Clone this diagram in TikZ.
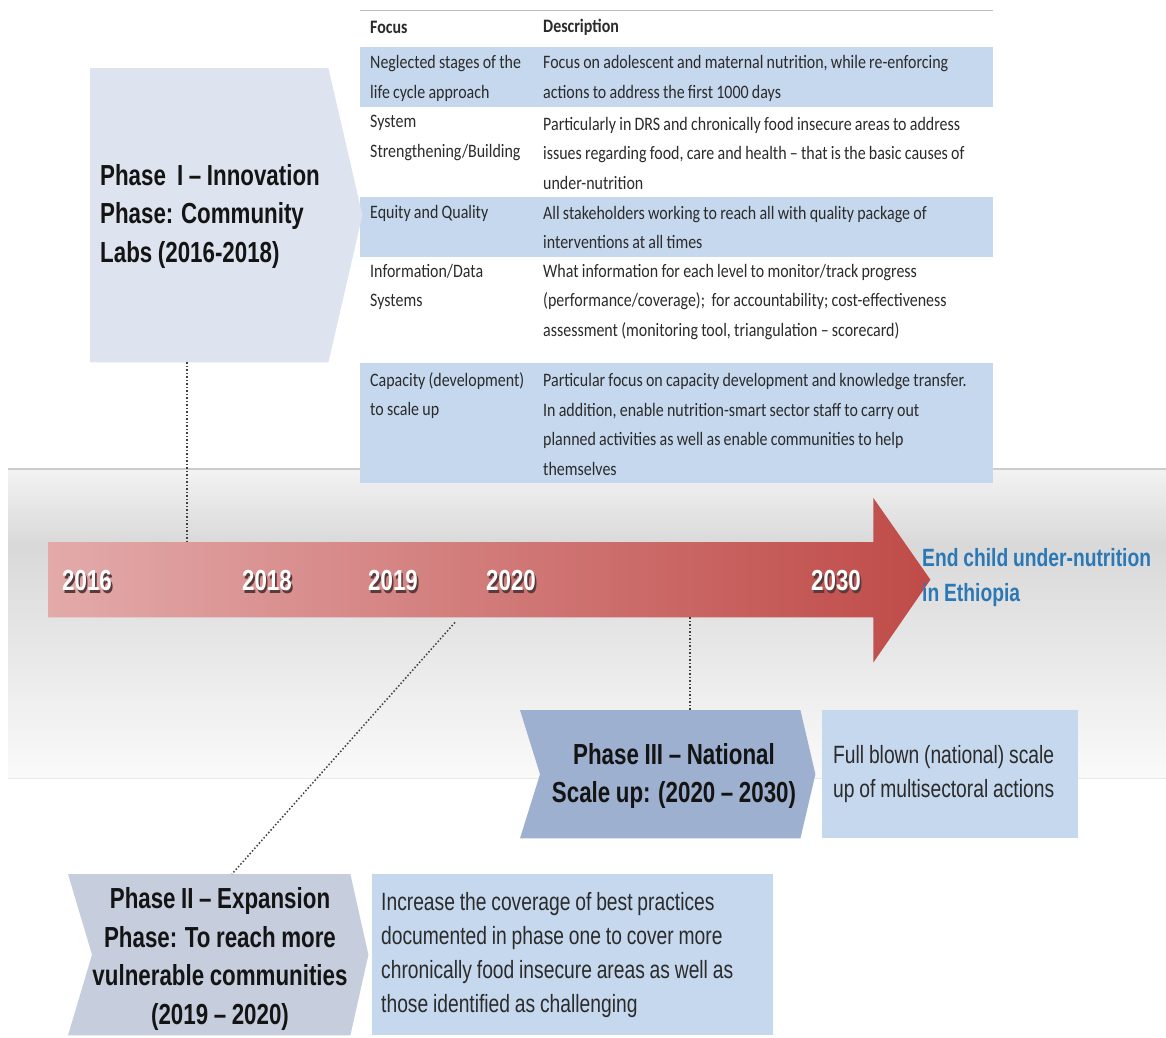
\documentclass[tikz,border=0pt]{standalone}
\usepackage{fontspec}
\setmainfont{Liberation Sans}
\newfontfamily\narrowsans[FakeStretch=0.77,WordSpace=0.9]{Liberation Sans}
\newfontfamily\tabfont[FakeStretch=0.84,WordSpace=0.9]{Carlito}
\usetikzlibrary{calc}

\definecolor{phaseone}{HTML}{DEE4EF}
\definecolor{phasetwo}{HTML}{C6CEDE}
\definecolor{phasethree}{HTML}{9EB0CF}
\definecolor{rowblue}{HTML}{C6D8EE}
\definecolor{arrowL}{HTML}{E3AAAA}
\definecolor{arrowR}{HTML}{BF4B48}
\definecolor{goalblue}{HTML}{2A78B6}
\definecolor{inktext}{HTML}{2B2B2B}
\definecolor{yearshadow}{HTML}{5A3A3A}

\newcommand{\yearlabel}[1]{\makebox[0pt][l]{\hspace{1.6pt}\raisebox{-2.6pt}{\textcolor{yearshadow}{#1}}}\textcolor{white}{#1}}

\tikzset{
  conn/.style={draw=black!75, line width=1.5pt, dotted},
  bodybox/.style={inner sep=0pt, anchor=north west},
  phasetxt/.style={font=\narrowsans\bfseries\fontsize{29}{38.5}\selectfont, text=black!92, inner sep=0pt},
  descbox/.style={fill=rowblue, anchor=north west, align=flush left, inner ysep=0pt,
    font=\narrowsans\fontsize{25}{34}\selectfont, text=inktext},
  celltxt/.style={font=\tabfont\fontsize{19}{29.5}\selectfont, text=inktext, align=left, inner sep=0pt, anchor=west},
  headtxt/.style={celltxt, font=\tabfont\bfseries\fontsize{19}{29.5}\selectfont},
  yeartxt/.style={font=\narrowsans\bfseries\fontsize{29}{30}\selectfont, inner sep=0pt},
}

\begin{document}
\begin{tikzpicture}[x=1pt,y=-1pt]
\useasboundingbox[fill=white] (0,0) rectangle (1166,1037);

% grey band behind the timeline
\shade[top color=black!5, bottom color=black!15] (8,470) rectangle (1166,545);
\shade[top color=black!15, bottom color=black!2] (8,545) rectangle (1166,778);
\draw[black!20, line width=2pt] (8,469) -- (1166,469);
\draw[black!9, line width=1pt] (8,778) -- (1166,778);

% focus / description table
\fill[white] (360,10) rectangle (993,47);
\draw[black!25, line width=1pt] (360,10) -- (993,10);
\fill[rowblue] (360,47) rectangle (993,107);
\fill[white] (360,107) rectangle (993,197);
\fill[rowblue] (360,197) rectangle (993,257);
\fill[white] (360,257) rectangle (993,363);
\fill[rowblue] (360,363) rectangle (993,483);

\node[headtxt] (hfocus) at (370,27) {Focus};
\node[headtxt] (hdesc) at (543,27) {Description};

\node[celltxt] (c11) at (370,78.5) {Neglected stages of the\\life cycle approach};
\node[celltxt] (c12) at (543,78.5) {Focus on adolescent and maternal nutrition, while re-enforcing\\actions to address the first 1000 days};
\node[celltxt] (c21) at (370,138) {System\\Strengthening/Building};
\node[celltxt] (c22) at (543,153) {Particularly in DRS and chronically food insecure areas to address\\issues regarding food, care and health – that is the basic causes of\\under-nutrition};
\node[celltxt] (c31) at (370,213) {Equity and Quality};
\node[celltxt] (c32) at (543,227.5) {All stakeholders working to reach all with quality package of\\interventions at all times};
\node[celltxt] (c41) at (370,287) {Information/Data\\Systems};
\node[celltxt] (c42) at (543,302) {What information for each level to monitor/track progress\\(performance/coverage);\ \ for accountability; cost-effectiveness\\assessment (monitoring tool, triangulation – scorecard)};
\node[celltxt] (c51) at (370,395.5) {Capacity (development)\\to scale up};
\node[celltxt] (c52) at (543,424.5) {Particular focus on capacity development and knowledge transfer.\\In addition, enable nutrition-smart sector staff to carry out\\planned activities as well as enable communities to help\\themselves};

% phase I chevron
\node[bodybox, minimum width=238, minimum height=294] (ph1) at (90,68) {};
\fill[phaseone] (ph1.north west) -- (ph1.north east) -- ([xshift=34pt]ph1.east)
  -- (ph1.south east) -- (ph1.south west) -- cycle;
\node[phasetxt, align=left, anchor=west] (ph1t) at (100,216)
  {Phase\ \ I – Innovation\\Phase: Community\\Labs (2016-2018)};

% timeline arrow
\node[bodybox, minimum width=825, minimum height=75] (tl) at (48,542) {};
\shade[left color=arrowL, right color=arrowR]
  (tl.north west) -- (tl.north east) -- ([yshift=44pt]tl.north east)
  -- ([xshift=57pt]tl.east) -- ([yshift=-45pt]tl.south east)
  -- (tl.south east) -- (tl.south west) -- cycle;

\node[yeartxt] (y2016) at (87,582) {\yearlabel{2016}};
\node[yeartxt] (y2018) at (267,582) {\yearlabel{2018}};
\node[yeartxt] (y2019) at (393,582) {\yearlabel{2019}};
\node[yeartxt] (y2020) at (511,582) {\yearlabel{2020}};
\node[yeartxt] (y2030) at (836,582) {\yearlabel{2030}};

\node[font=\narrowsans\bfseries\fontsize{25}{35}\selectfont, text=goalblue, align=left,
  inner sep=0pt, anchor=west] (goal) at (922,578) {End child under-nutrition\\in Ethiopia};

% phase III chevron and its description
\node[bodybox, minimum width=280, minimum height=128] (ph3) at (520,710) {};
\fill[phasethree] (ph3.north west) -- (ph3.north east) -- ([xshift=15pt]ph3.east)
  -- (ph3.south east) -- (ph3.south west) -- ([xshift=20pt]ph3.west) -- cycle;
\node[phasetxt, align=center] (ph3t) at (674,776) {Phase III – National\\Scale up: (2020 – 2030)};
\node[descbox, minimum width=256, minimum height=128, text width=234, inner xsep=11pt] (d3) at (822,710)
  {Full blown (national) scale\\up of multisectoral actions};

% phase II chevron and its description
\node[bodybox, minimum width=282, minimum height=161] (ph2) at (68,874) {};
\fill[phasetwo] (ph2.north west) -- (ph2.north east) -- ([xshift=18pt]ph2.east)
  -- (ph2.south east) -- (ph2.south west) -- ([xshift=24pt]ph2.west) -- cycle;
\node[phasetxt, align=center] (ph2t) at (220,959)
  {Phase II – Expansion\\Phase: To reach more\\vulnerable communities\\(2019 – 2020)};
\node[descbox, minimum width=401, minimum height=161, text width=383, inner xsep=9pt] (d2) at (372,874)
  {Increase the coverage of best practices\\documented in phase one to cover more\\chronically food insecure areas as well as\\those identified as challenging};

% dotted links between phases and the timeline
\draw[conn] ([xshift=97pt]ph1.south west) -- ([xshift=97pt]ph1.south west |- tl.north);
\draw[conn] ([xshift=407pt,yshift=-5pt]tl.south west) -- ([xshift=164pt]ph2.north west);
\draw[conn] ([xshift=642pt]tl.south west) -- ([xshift=642pt]tl.south west |- ph3.north);
\end{tikzpicture}
\end{document}
